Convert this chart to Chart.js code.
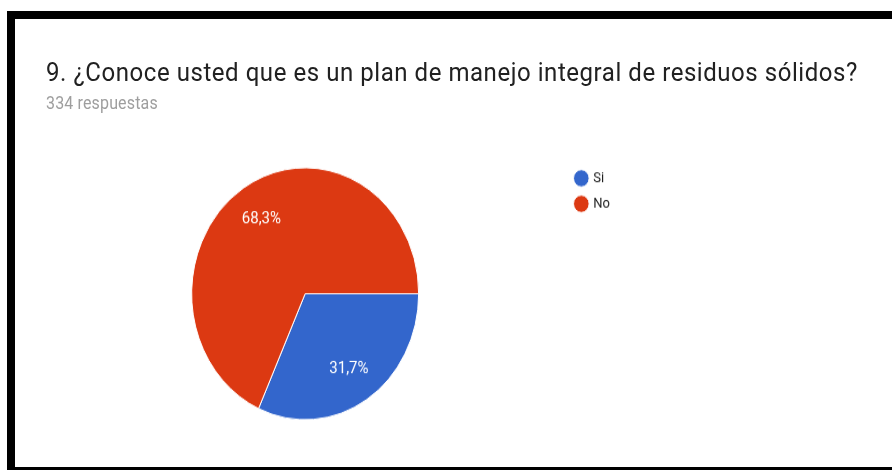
<!DOCTYPE html>
<html lang="es">

<head>
    <meta charset="UTF-8">
    <meta name="viewport" content="width=device-width, initial-scale=1.0">
    <title>Plan de manejo integral de residuos sólidos</title>
    <script src="https://cdn.jsdelivr.net/npm/chart.js"></script>
    <style>
        body {
            margin: 0;
            background: #fff;
            overflow: hidden;
        }
        /* black frame of the screenshot (no right edge visible) */
        .frame {
            position: absolute;
            left: 7px;
            top: 11px;
            width: 900px;
            height: 448px;
            border-left: 8px solid #000;
            border-top: 8px solid #000;
            border-bottom: 8px solid #000;
        }
        /* the original screenshot is stretched vertically */
        .stretch {
            position: absolute;
            left: 0;
            top: 0;
            width: 877px;
            height: 404px;
            transform: scaleY(1.11);
            transform-origin: 0 0;
            font-family: Roboto, sans-serif;
        }
        .question {
            position: absolute;
            left: 31px;
            top: 36px;
            font-size: 24px;
            line-height: 24px;
            letter-spacing: 0.55px;
            color: #212121;
            white-space: nowrap;
        }
        .responses {
            position: absolute;
            left: 31px;
            top: 68px;
            font-size: 16px;
            line-height: 16px;
            letter-spacing: 0.15px;
            color: #9e9e9e;
            white-space: nowrap;
        }
        .chart-box {
            position: absolute;
            left: 0;
            top: 124px;
            width: 605px;
            height: 247px;
        }
    </style>
</head>

<body>
    <div class="frame">
        <div class="stretch">
            <div class="question">9. ¿Conoce usted que es un plan de manejo integral de residuos sólidos?</div>
            <div class="responses" id="responses"></div>
            <div class="chart-box"><canvas id="pieChart"></canvas></div>
        </div>
    </div>

    <script>
        const labels = ['Si', 'No'];
        const answers = [106, 228];
        const colors = ['#3366cc', '#dc3912'];

        const total = answers.reduce((a, b) => a + b, 0);
        document.getElementById('responses').textContent = total + ' respuestas';

        // percentage text inside each slice, like Google Forms
        const sliceLabels = {
            id: 'sliceLabels',
            afterDatasetsDraw(chart) {
                const ctx = chart.ctx;
                const meta = chart.getDatasetMeta(0);
                ctx.save();
                ctx.font = '15px Roboto, sans-serif';
                ctx.fillStyle = '#ffffff';
                ctx.textAlign = 'center';
                ctx.textBaseline = 'middle';
                meta.data.forEach((arc, i) => {
                    const p = arc.getProps(['x', 'y', 'startAngle', 'endAngle', 'outerRadius'], true);
                    const mid = (p.startAngle + p.endAngle) / 2;
                    const r = p.outerRadius * 0.71;
                    const pct = (answers[i] / total * 100).toFixed(1).replace('.', ',') + '%';
                    ctx.fillText(pct, p.x + Math.cos(mid) * r, p.y + Math.sin(mid) * r);
                });
                ctx.restore();
            }
        };

        new Chart(document.getElementById('pieChart'), {
            type: 'pie',
            data: {
                labels: labels,
                datasets: [{
                    data: answers,
                    backgroundColor: colors,
                    borderColor: '#ffffff',
                    borderWidth: 1,
                    radius: 113.5
                }]
            },
            options: {
                responsive: true,
                maintainAspectRatio: false,
                animation: false,
                rotation: 90,
                layout: {
                    padding: { left: 29.5, top: 3, bottom: 3, right: 0 }
                },
                plugins: {
                    tooltip: { enabled: false },
                    legend: {
                        position: 'right',
                        align: 'start',
                        labels: {
                            usePointStyle: true,
                            pointStyle: 'circle',
                            boxWidth: 11,
                            boxHeight: 11,
                            padding: 10,
                            color: '#222222',
                            font: { family: 'Roboto, sans-serif', size: 13 }
                        }
                    }
                }
            },
            plugins: [sliceLabels]
        });
    </script>
</body>

</html>
